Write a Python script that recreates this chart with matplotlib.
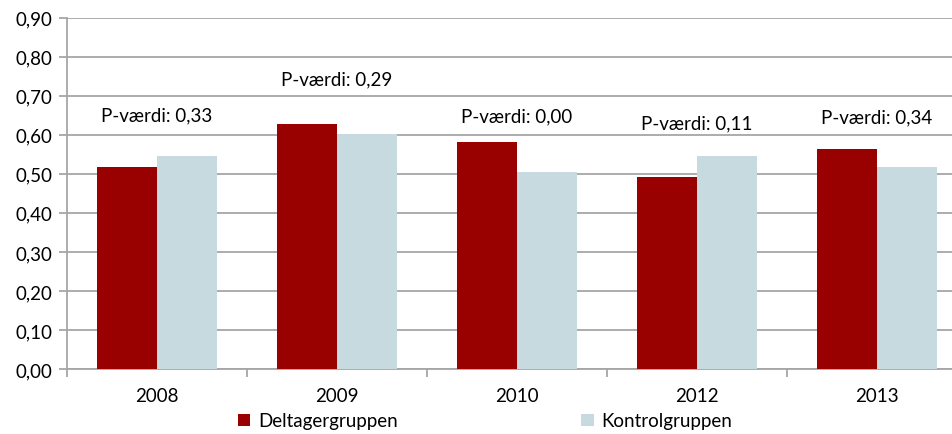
import matplotlib
matplotlib.use("Agg")
import matplotlib.pyplot as plt
import numpy as np
from matplotlib.ticker import FixedLocator, FuncFormatter

years = ["2008", "2009", "2010", "2012", "2013"]
deltager = [0.517, 0.627, 0.581, 0.491, 0.563]
kontrol = [0.546, 0.602, 0.505, 0.545, 0.518]
p_values = [0.33, 0.29, 0.00, 0.11, 0.34]
series_names = ["Deltagergruppen", "Kontrolgruppen"]
yticks = [0.0, 0.1, 0.2, 0.3, 0.4, 0.5, 0.6, 0.7, 0.8, 0.9]

label_y = [0.650, 0.743, 0.648, 0.630, 0.645]

plt.rcParams['font.family'] = ['Lato', 'DejaVu Sans']
FS = 13.5

W, H = 952, 435
fig = plt.figure(figsize=(W / 100, H / 100), dpi=100)
left, right, top, bottom = 66.7, 966.7, 18.7, 370
ax = fig.add_axes([left / W, 1 - bottom / H, (right - left) / W, (bottom - top) / H])

x = np.arange(len(years))
bw = 1 / 3
c1, c2 = "#990000", "#C6DAE0"
b1 = ax.bar(x - bw / 2, deltager, bw, color=c1, label=series_names[0], zorder=3)
b2 = ax.bar(x + bw / 2, kontrol, bw, color=c2, label=series_names[1], zorder=3)

ax.set_xlim(-0.5, len(years) - 0.5)
ax.set_ylim(0, 0.9)
ax.yaxis.set_major_locator(FixedLocator(yticks))
ax.yaxis.set_major_formatter(FuncFormatter(lambda v, p: f"{v:.2f}".replace(".", ",")))
ax.grid(axis="y", color="#a6a6a6", linewidth=1.3, zorder=0)

ax.set_xticks(x)
ax.set_xticklabels(years)
ax.xaxis.set_minor_locator(FixedLocator(np.arange(len(years) + 1) - 0.5))
ax.tick_params(axis="x", which="major", length=0, pad=13, labelsize=FS)
ax.tick_params(axis="x", which="minor", length=6, width=1.3, color="#a6a6a6", direction="out")
ax.tick_params(axis="y", length=6, width=1.3, color="#a6a6a6", labelsize=FS, pad=4)

for s in ["top", "right"]:
    ax.spines[s].set_visible(False)
for s in ["left", "bottom"]:
    ax.spines[s].set_color("#a6a6a6")
    ax.spines[s].set_linewidth(1.3)

for i, p in enumerate(p_values):
    ax.text(x[i], label_y[i], f"P-værdi: {p:.2f}".replace(".", ","),
            ha="center", va="center", fontsize=FS, color="black")

fig.legend(handles=[b1, b2], loc="center", bbox_to_anchor=(485 / W, 1 - 422 / H),
           ncol=2, frameon=False, fontsize=FS, handlelength=0.65, handleheight=0.65,
           handletextpad=0.4, columnspacing=9.8)

fig.savefig("out.png", dpi=100)
